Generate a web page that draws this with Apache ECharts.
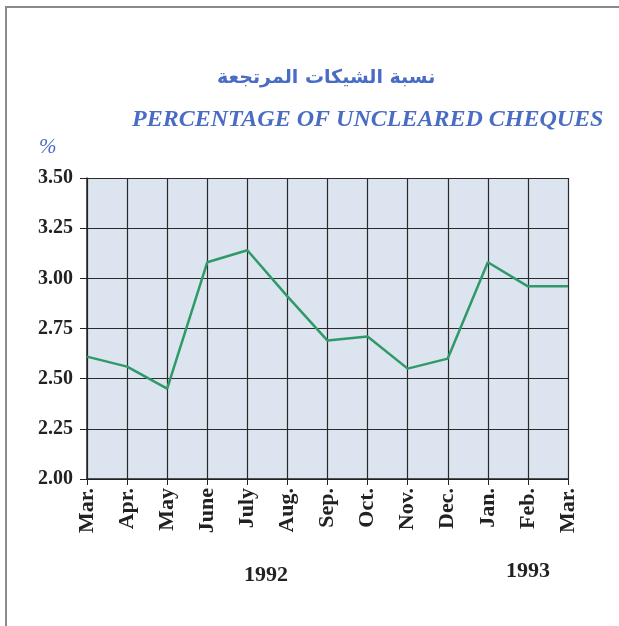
<!DOCTYPE html>
<html lang="en">
<head>
    <meta charset="UTF-8">
    <title>Percentage of uncleared cheques</title>
    <style>
        body{ margin:0; background:#fff; }
        #frame{
            position:absolute; left:5px; top:6px; width:614px; height:620px;
            border-left:2px solid #8a8a8a; border-top:2px solid #8a8a8a;
        }
        #main{ position:absolute; left:0; top:0; width:619px; height:626px; }
    </style>
    <script src="https://cdn.jsdelivr.net/npm/echarts@6/dist/echarts.min.js"></script>
</head>
<body>
<div id="frame"></div>
<div id="main"></div>
<script type="text/javascript">
    // months Mar 1992 .. Mar 1993
    var months = ['Mar.', 'Apr.', 'May', 'June', 'July', 'Aug.', 'Sep.', 'Oct.', 'Nov.', 'Dec.', 'Jan.', 'Feb.', 'Mar.'];
    var percent = [2.61, 2.56, 2.45, 3.08, 3.14, 2.91, 2.69, 2.71, 2.55, 2.60, 3.08, 2.96, 2.96];
    var years = ['1992', '1993'];

    var serif = '"Liberation Serif", "DejaVu Serif", serif';
    var blue = '#4a6cc4';

    var myChart = echarts.init(document.getElementById('main'));
    var option = {
        backgroundColor: 'transparent',
        animation: false,
        title: [{
            text: 'نسبة الشيكات المرتجعة',
            left: 212, top: 64,
            textStyle: { fontFamily: '"DejaVu Sans", sans-serif', fontSize: 19, fontWeight: 'bold', color: blue }
        }, {
            text: 'PERCENTAGE OF UNCLEARED CHEQUES',
            left: 127, top: 103,
            textStyle: { fontFamily: serif, fontSize: 24, fontWeight: 'bold', fontStyle: 'italic', color: blue }
        }],
        graphic: [{
            type: 'text', left: 39, top: 137,
            style: { text: '%', fontFamily: serif, fontSize: 21, fontStyle: 'italic', fill: blue }
        }, {
            type: 'text', left: 244, top: 564,
            style: { text: years[0], fontFamily: serif, fontSize: 22, fontWeight: 'bold', fill: '#222' }
        }, {
            type: 'text', left: 506, top: 560,
            style: { text: years[1], fontFamily: serif, fontSize: 22, fontWeight: 'bold', fill: '#222' }
        }],
        grid: {
            left: 87, right: 51, top: 178, bottom: 147,
            show: true, backgroundColor: '#dbe4ef', borderWidth: 0
        },
        xAxis: {
            type: 'category',
            data: months,
            boundaryGap: false,
            axisLine: { lineStyle: { color: '#222', width: 1.5 } },
            axisTick: { show: true, length: 6, lineStyle: { color: '#222' } },
            splitLine: { show: true, lineStyle: { color: '#2a2a2a', width: 1.2 } },
            axisLabel: {
                rotate: 90, margin: 9, interval: 0,
                fontFamily: serif, fontSize: 22, fontWeight: 'bold', color: '#222'
            }
        },
        yAxis: {
            type: 'value',
            min: 2, max: 3.5, interval: 0.25,
            axisLine: { show: true, lineStyle: { color: '#222', width: 1.5 } },
            axisTick: { show: true, length: 7, lineStyle: { color: '#222' } },
            splitLine: { show: true, lineStyle: { color: '#2a2a2a', width: 1.2 } },
            axisLabel: {
                margin: 14,
                fontFamily: serif, fontSize: 20, fontWeight: 'bold', color: '#222',
                formatter: function (v) { return v.toFixed(2); }
            }
        },
        series: [{
            type: 'line',
            data: percent,
            showSymbol: false,
            lineStyle: { color: '#2f9a68', width: 2.5 },
            itemStyle: { color: '#2f9a68' }
        }]
    };
    myChart.setOption(option);
</script>
</body>
</html>
